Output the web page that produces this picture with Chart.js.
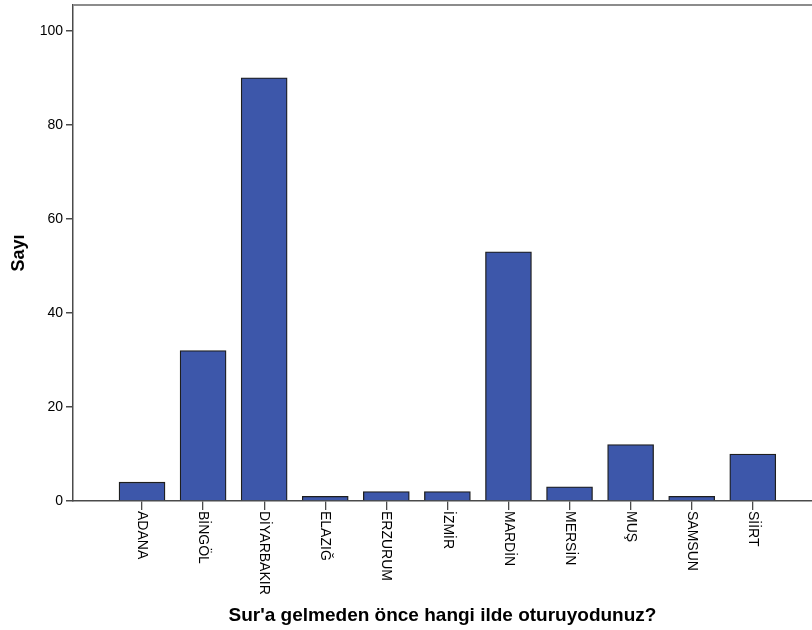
<!DOCTYPE html>
<html>
<head>
<meta charset="utf-8">
<script src="https://cdn.jsdelivr.net/npm/chart.js@4"></script>
<style>
  html, body { margin: 0; padding: 0; background: #fff; }
  #wrap { width: 812px; height: 630px; }
</style>
</head>
<body>
<div id="wrap"><canvas id="barChart" width="812" height="630"></canvas></div>
<script>
// veriler
const cities = ["ADANA", "BİNGÖL", "DİYARBAKIR", "ELAZIĞ", "ERZURUM", "İZMİR",
                "MARDİN", "MERSİN", "MUŞ", "SAMSUN", "SİİRT"];
const counts = [4, 32, 90, 1, 2, 2, 53, 3, 12, 1, 10];
const yTicks = [0, 20, 40, 60, 80, 100];

const FONT = "'Liberation Sans', Arial, sans-serif";
const AXIS_COLOR = "#4a4a4a";

// x etiketleri yukaridan asagi okunacak sekilde (SPSS gibi)
const cityLabels = {
  id: "cityLabels",
  afterDraw(chart) {
    const c = chart.ctx;
    const xs = chart.scales.x;
    const top = chart.chartArea.bottom + 10;
    c.save();
    c.font = "14px " + FONT;
    c.fillStyle = "#000";
    c.textAlign = "left";
    c.textBaseline = "middle";
    cities.forEach((name, i) => {
      c.save();
      c.translate(xs.getPixelForValue(i), top);
      c.rotate(Math.PI / 2);
      c.fillText(name, 0, 0);
      c.restore();
    });
    c.restore();
  }
};

// ust cerceve cizgisi
const frameTop = {
  id: "frameTop",
  beforeDatasetsDraw(chart) {
    const { left, right, top } = chart.chartArea;
    const c = chart.ctx;
    c.save();
    c.strokeStyle = "#8c8c8c";
    c.lineWidth = 2;
    c.beginPath();
    c.moveTo(left, top);
    c.lineTo(right, top);
    c.stroke();
    c.restore();
  }
};

new Chart(document.getElementById("barChart"), {
  type: "bar",
  data: {
    datasets: [{
      label: "Sayı",
      data: cities.map((name, i) => ({ x: i, y: counts[i] })),
      backgroundColor: "#3d57aa",
      borderColor: "#1e1e1e",
      borderWidth: 1.3,
      barThickness: 46
    }]
  },
  plugins: [frameTop, cityLabels],
  options: {
    responsive: false,
    animation: false,
    layout: { padding: { top: 5, right: 0, bottom: 0, left: 0 } },
    plugins: {
      legend: { display: false },
      tooltip: { enabled: false }
    },
    scales: {
      x: {
        type: "linear",
        offset: false,
        min: -1.13,
        max: 10.97,
        afterBuildTicks: (scale) => {
          scale.ticks = cities.map((name, i) => ({ value: i }));
        },
        afterFit: (scale) => {
          scale.height = 129;
          scale.paddingLeft = 0;
          scale.paddingRight = 0;
        },
        ticks: { display: false },
        grid: { offset: false, drawOnChartArea: false, drawTicks: true, tickLength: 9, color: AXIS_COLOR, lineWidth: 1.3 },
        border: { color: AXIS_COLOR, width: 1.5 },
        title: {
          display: true,
          text: "Sur'a gelmeden önce hangi ilde oturuyodunuz?",
          color: "#000",
          font: { family: FONT, size: 19, weight: "bold" },
          padding: { top: 0, bottom: 3 }
        }
      },
      y: {
        min: 0,
        max: 105.5,
        afterBuildTicks: (scale) => {
          scale.ticks = yTicks.map((v) => ({ value: v }));
        },
        afterFit: (scale) => {
          scale.width = 73;
          scale.paddingTop = 0;
          scale.paddingBottom = 0;
        },
        ticks: {
          color: "#000",
          padding: 3,
          font: { family: FONT, size: 14 }
        },
        grid: { drawOnChartArea: false, drawTicks: true, tickLength: 7, color: AXIS_COLOR, lineWidth: 1.5 },
        border: { color: AXIS_COLOR, width: 1.5 },
        title: {
          display: true,
          text: "Sayı",
          color: "#000",
          font: { family: FONT, size: 18, weight: "bold" },
          padding: { top: 8, bottom: 0 }
        }
      }
    }
  }
});
</script>
</body>
</html>
